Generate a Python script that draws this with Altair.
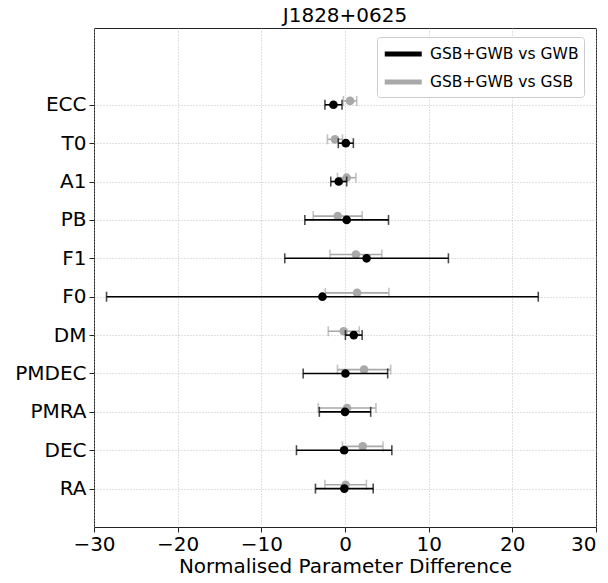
import altair as alt
import pandas as pd

params = ["RA", "DEC", "PMRA", "PMDEC", "DM", "F0", "F1", "PB", "A1", "T0", "ECC"]

series_names = ["GSB+GWB vs GWB", "GSB+GWB vs GSB"]
series_colors = ["black", "#a9a9a9"]
series_offsets = [0.0, 0.1]

black_val = [-0.08, -0.1, 0.0, 0.05, 1.05, -2.7, 2.58, 0.2, -0.75, 0.1, -1.38]
black_err = [3.45, 5.7, 3.07, 5.05, 1.0, 25.8, 9.78, 5.0, 0.95, 0.9, 1.02]

grey_val = [0.08, 2.12, 0.25, 2.28, -0.15, 1.45, 1.3, -0.87, 0.2, -1.2, 0.6]
grey_err = [2.48, 2.42, 3.45, 3.18, 1.85, 3.8, 3.1, 2.93, 1.1, 0.9, 0.8]

x_ticks = [-30, -20, -10, 0, 10, 20, 30]

FONT = "DejaVu Sans"

rows = []
for s, (vals, errs) in enumerate([(black_val, black_err), (grey_val, grey_err)]):
    for i, p in enumerate(params):
        rows.append({
            "param": p,
            "y": i + series_offsets[s],
            "val": vals[i],
            "lo": vals[i] - errs[i],
            "hi": vals[i] + errs[i],
            "series": series_names[s],
        })
df = pd.DataFrame(rows)

label_expr = "[" + ",".join("'%s'" % p for p in params) + "][datum.value]"

x_axis = alt.Axis(values=x_ticks, title="Normalised Parameter Difference",
                  grid=True, labelFlush=False, labelBaseline="alphabetic",
                  labelAlign={"expr": "datum.value >= 30 ? 'right' : 'center'"},
                  labelPadding=18, titleY=45, titleBaseline="alphabetic")
y_axis = alt.Axis(values=list(range(len(params))), labelExpr=label_expr,
                  title=None, grid=True, labelPadding=3)

x_scale = alt.Scale(domain=[-30, 30], nice=False, zero=False)
y_scale = alt.Scale(domain=[-1, 12], nice=False, zero=False)

color_scale = alt.Scale(domain=series_names, range=series_colors)
legend = alt.Legend(
    title=None, orient="none", legendX=283, legendY=9,
    symbolType="M-1,0H3", symbolStrokeWidth=5, symbolSize=342,
    labelOffset=24,
    labelFontSize=15.5, labelFont=FONT, labelColor="black", labelLimit=400,
    fillColor="white", strokeColor="#cccccc", cornerRadius=3, padding=5,
    rowPadding=6,
)

layers = []
for s in [1, 0]:
    name = series_names[s]
    col = series_colors[s]
    base = alt.Chart(df).transform_filter(alt.datum.series == name)
    rule = base.mark_rule(strokeWidth=1.6).encode(
        x=alt.X("lo:Q", scale=x_scale, axis=x_axis),
        x2="hi:Q",
        y=alt.Y("y:Q", scale=y_scale, axis=y_axis),
        color=alt.Color("series:N", scale=color_scale, legend=legend),
    )
    cap_lo = base.mark_tick(orient="vertical", size=10, thickness=1.6, color=col).encode(
        x=alt.X("lo:Q", scale=x_scale), y=alt.Y("y:Q", scale=y_scale))
    cap_hi = base.mark_tick(orient="vertical", size=10, thickness=1.6, color=col).encode(
        x=alt.X("hi:Q", scale=x_scale), y=alt.Y("y:Q", scale=y_scale))
    pts = base.mark_point(filled=True, size=75, opacity=1, color=col).encode(
        x=alt.X("val:Q", scale=x_scale), y=alt.Y("y:Q", scale=y_scale))
    layers += [rule, cap_lo, cap_hi, pts]

chart = alt.layer(*layers).properties(
    width=502,
    height=499,
    padding={"left": 86, "top": 20, "right": 4, "bottom": 48},
    autosize=alt.AutoSizeParams(type="none"),
    title=alt.TitleParams("J1828+0625", font=FONT, fontSize=20, fontWeight="normal",
                          color="black", offset=2),
).configure_view(
    stroke="#222222", strokeWidth=1
).configure_axis(
    labelFont=FONT, labelFontSize=20, labelColor="black",
    titleFont=FONT, titleFontSize=20, titleColor="black", titleFontWeight="normal",
    tickColor="#222222", tickSize=5, domain=False,
    gridColor="#b0b0b0", gridDash=[1, 2], gridWidth=0.8,
)

chart.save("out.html", embed_options={"renderer": "svg", "actions": False})
